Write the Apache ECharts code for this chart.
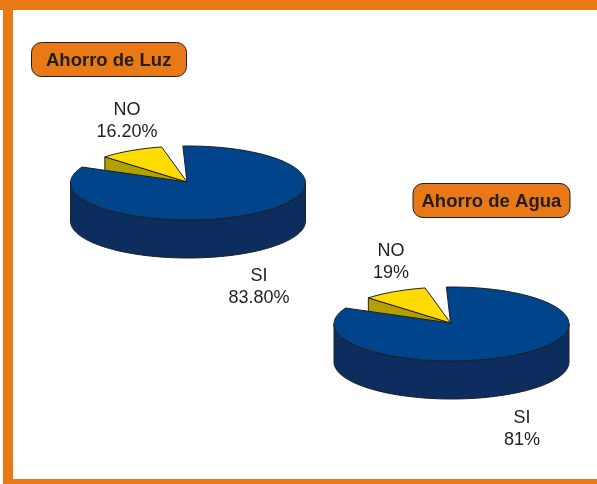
<!DOCTYPE html>
<html>
<head>
<meta charset="utf-8">
<style>
  html, body { margin: 0; padding: 0; background: #fff; }
  #main { width: 597px; height: 484px; }
</style>
<script src="https://cdn.jsdelivr.net/npm/echarts@6/dist/echarts.min.js"></script>
</head>
<body>
<div id="main"></div>
<script>
const titles = ['Ahorro de Luz', 'Ahorro de Agua']
const categories = ['NO', 'SI']
const labelsLuz = ['16.20%', '83.80%']
const labelsAgua = ['19%', '81%']
// wedge sizes as they are drawn in the picture, percent of the full turn
const drawnLuz = [8.9, 82.8]
const drawnAgua = [8.9, 82.8]

const orange = '#E97817'
const ink = '#1f1f1f'
const fills = ['#FFDB00', '#00448C']
const walls = ['#B3A000', '#0D2D5E']

const rx = 117.5
const ry = 37
const depth = 38
const noEnd = -13 // clockwise from the top, degrees
const siStart = -2.5

function pt (cx, cy, deg, dz) {
  const a = deg * Math.PI / 180
  return [cx + rx * Math.sin(a), cy - ry * Math.cos(a) + (dz || 0)]
}

function arc (cx, cy, from, to, dz) {
  const pts = []
  const n = Math.max(2, Math.ceil(Math.abs(to - from) / 2))
  for (let i = 0; i <= n; i++) {
    pts.push(pt(cx, cy, from + (to - from) * i / n, dz))
  }
  return pts
}

function poly (points, fill) {
  return {
    type: 'polygon',
    shape: { points },
    style: { fill, stroke: ink, lineWidth: 1, lineJoin: 'round' }
  }
}

function pieSeries (drawn, labels, cx, cy, labelPos) {
  const apex = [cx - 1, cy - 1]
  return {
    type: 'custom',
    coordinateSystem: 'none',
    silent: true,
    data: categories.map((c, i) => ({ name: c, value: drawn[i] })),
    renderItem (params, api) {
      const i = params.dataIndex
      const sweep = api.value(0) * 3.6
      const from = i === 0 ? noEnd - sweep : siStart
      const to = from + sweep
      const children = []
      if (i === 0) {
        // the cut side of the small wedge, the big one covers most of it
        const e = pt(cx, cy, from)
        children.push(poly([apex, e, pt(cx, cy, from, depth), [apex[0], apex[1] + depth]], walls[0]))
      } else {
        children.push(poly(arc(cx, cy, 90, 270).concat(arc(cx, cy, 270, 90, depth)), walls[1]))
      }
      children.push(poly([apex].concat(arc(cx, cy, from, to)), fills[i]))
      children.push({
        type: 'text',
        style: {
          text: categories[i] + '\n' + labels[i],
          x: labelPos[i][0],
          y: labelPos[i][1],
          fill: ink,
          font: '18px "Liberation Sans", Arial, sans-serif',
          lineHeight: 22,
          align: 'center',
          verticalAlign: 'middle'
        }
      })
      return { type: 'group', children }
    }
  }
}

const badge = {
  backgroundColor: orange,
  borderColor: ink,
  borderWidth: 1,
  borderRadius: 10
}
const badgeText = {
  color: ink,
  fontFamily: '"Liberation Sans", Arial, sans-serif',
  fontWeight: 'bold',
  fontSize: 18.5,
  lineHeight: 21
}

const option = {
  animation: false,
  backgroundColor: '#fff',
  title: [
    Object.assign({ text: titles[0], left: 31, top: 42, padding: [8, 15, 6, 15], textStyle: badgeText }, badge),
    Object.assign({ text: titles[1], left: 413, top: 183, padding: [8, 8.5, 6, 8.5], textStyle: badgeText }, badge)
  ],
  graphic: [
    { type: 'rect', shape: { x: 0, y: 0, width: 597, height: 10 }, style: { fill: orange }, silent: true },
    { type: 'rect', shape: { x: 3, y: 0, width: 10, height: 484 }, style: { fill: orange }, silent: true },
    { type: 'rect', shape: { x: 3, y: 479, width: 594, height: 5 }, style: { fill: orange }, silent: true }
  ],
  series: [
    pieSeries(drawnLuz, labelsLuz, 188, 183, [[127, 121], [259, 287]]),
    pieSeries(drawnAgua, labelsAgua, 451.5, 324, [[391, 262.5], [522, 429]])
  ]
}

const chart = echarts.init(document.getElementById('main'))
chart.setOption(option)
</script>
</body>
</html>
